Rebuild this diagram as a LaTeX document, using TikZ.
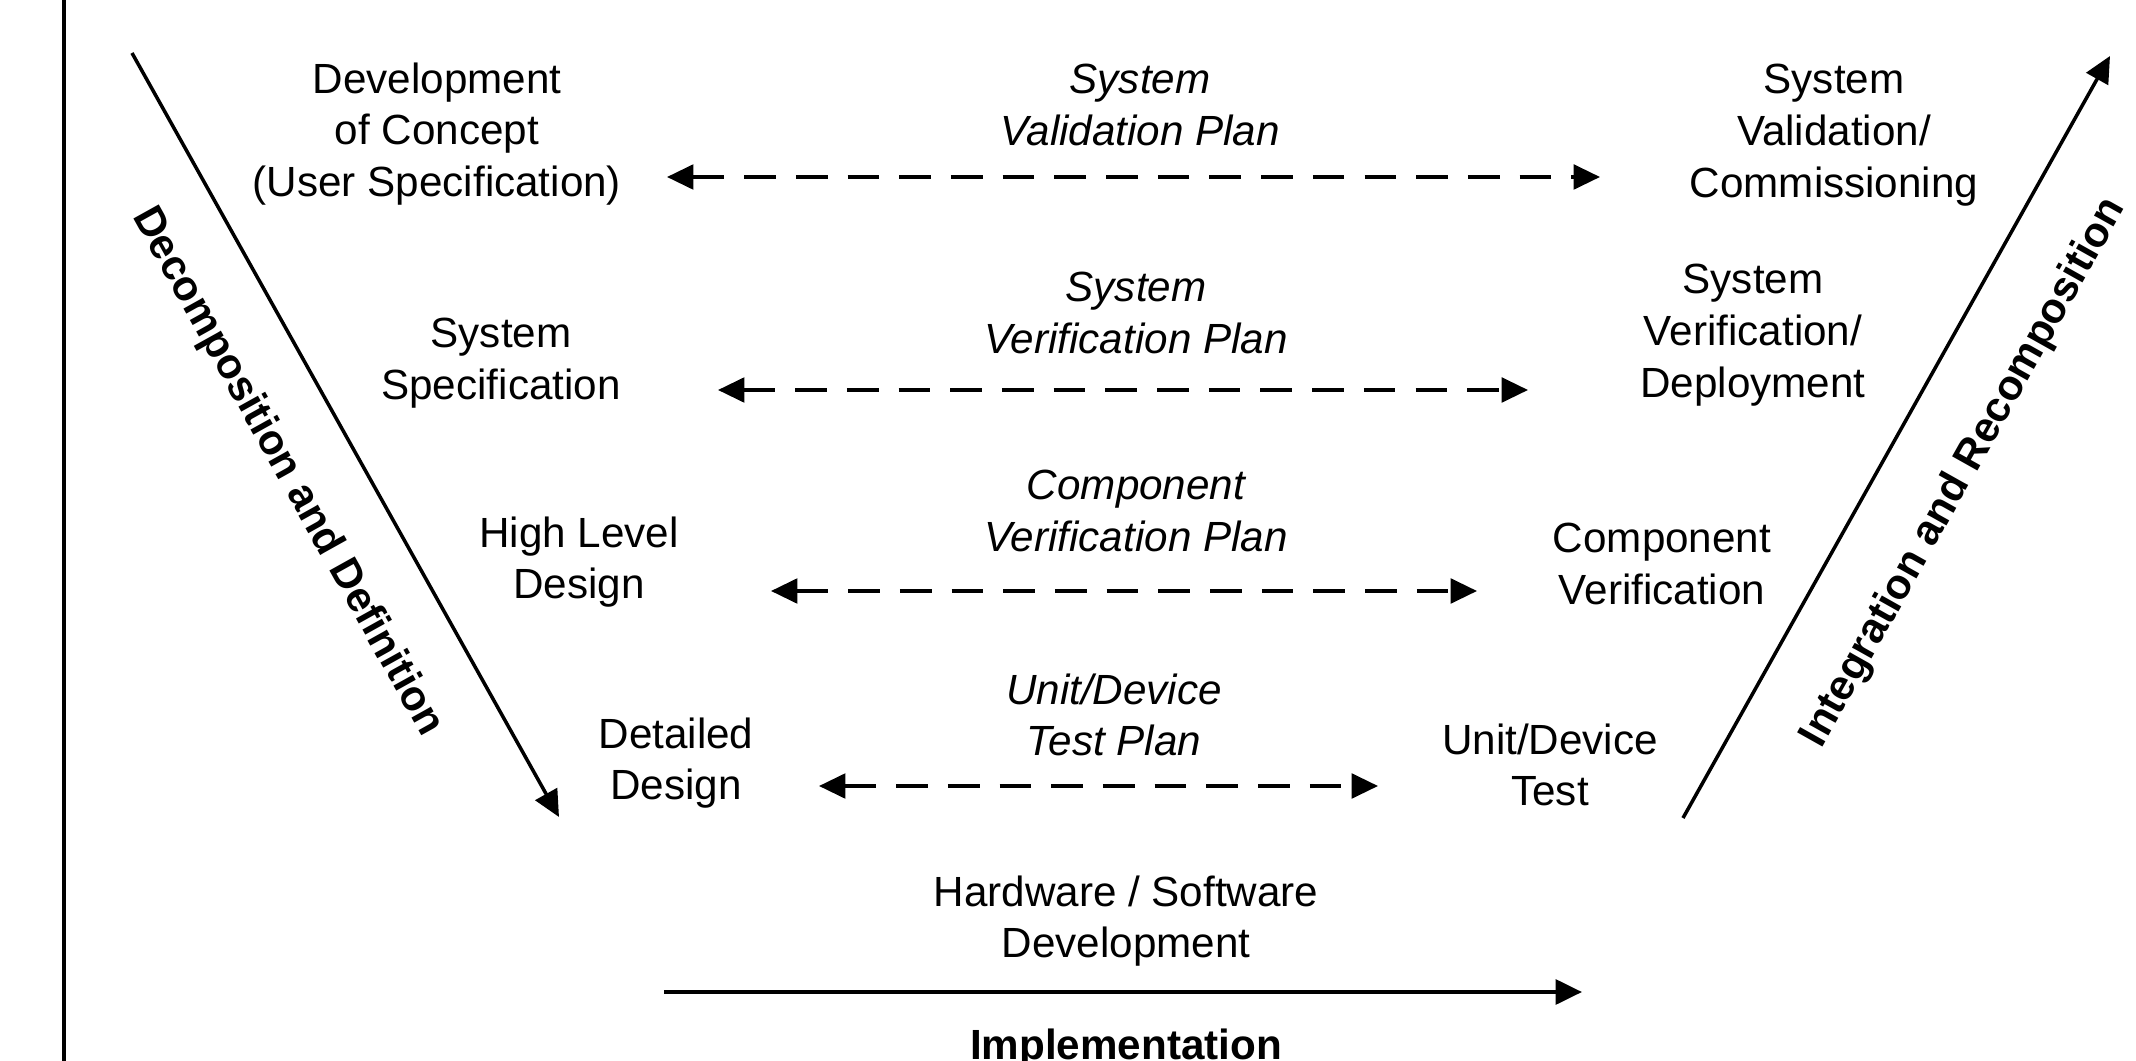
\documentclass[tikz,border=0pt]{standalone}
\usepackage{fontspec}
\setmainfont{Liberation Sans}
\usetikzlibrary{arrows.meta}
\begin{document}
\begin{tikzpicture}[x=0.01cm,y=-0.01cm,
  lbl/.style={align=center,font=\fontsize{12}{14.7}\selectfont,inner sep=0pt},
  plan/.style={align=center,font=\fontsize{12}{14.7}\selectfont\itshape,inner sep=0pt},
  phase/.style={font=\fontsize{12}{14.7}\selectfont\bfseries,inner sep=0pt},
  tip/.style={-{Triangle[length=7.5pt,width=7pt]}},
  both/.style={{Triangle[length=7.5pt,width=7pt]}-{Triangle[length=7.5pt,width=7pt]}},
  link/.style={both,line width=1pt,dash pattern=on 9pt off 5.7pt},
  flow/.style={tip,line width=1pt}]
\useasboundingbox (0,0) rectangle (2136,1061);
\fill[white] (0,0) rectangle (2136,1061);
% frame line on the left
\draw[line width=1.3pt] (64,0) -- (64,1061);

% left branch: specification levels
\node[lbl] (concept) at (437,134) {Development\\of Concept\\(User Specification)};
\node[lbl] (sysspec) at (501,363) {System\\Specification};
\node[lbl] (hld) at (579,562) {High Level\\Design};
\node[lbl] (dd) at (676,763) {Detailed\\Design};

% right branch: verification levels
\node[lbl] (sysval) at (1834,135) {System\\Validation/\\Commissioning};
\node[lbl] (sysver) at (1753,335) {System\\Verification/\\Deployment};
\node[lbl] (compver) at (1662,564) {Component\\Verification};
\node[lbl] (unit) at (1550,765) {Unit/Device\\Test};

% plans linking both branches
\node[plan] (p1) at (1140,105) {System\\Validation Plan};
\node[plan] (p2) at (1136,313) {System\\Verification Plan};
\node[plan] (p3) at (1136,511) {Component\\Verification Plan};
\node[plan] (p4) at (1114,715) {Unit/Device\\Test Plan};

\coordinate (a1l) at (667,177);  \coordinate (a1r) at (1600,177);
\coordinate (a2l) at (718,390);  \coordinate (a2r) at (1528,390);
\coordinate (a3l) at (771,591);  \coordinate (a3r) at (1477,591);
\coordinate (a4l) at (819,786);  \coordinate (a4r) at (1378,786);
\draw[link] (a1l) -- (a1r);
\draw[link] (a2l) -- (a2r);
\draw[link] (a3l) -- (a3r);
\draw[link] (a4l) -- (a4r);

% bottom: implementation
\node[lbl] (hwsw) at (1126,921) {Hardware / Software\\Development};
\coordinate (il) at (664,992); \coordinate (ir) at (1582,992);
\draw[flow,line width=1.2pt] (il) -- (ir);
\node[phase] (impl) at (1126,1049) {Implementation};

% the two legs of the V
\coordinate (dtop) at (132,53);  \coordinate (dbot) at (559,817);
\coordinate (ubot) at (1683,818); \coordinate (utop) at (2110,56);
\draw[flow] (dtop) -- (dbot);
\draw[flow] (ubot) -- (utop);
\node[phase,rotate=-60.9] (decomp) at (287,472) {Decomposition and Definition};
\node[phase,rotate=60.7] (integ) at (1964,473) {Integration and Recomposition};
\end{tikzpicture}
\end{document}
